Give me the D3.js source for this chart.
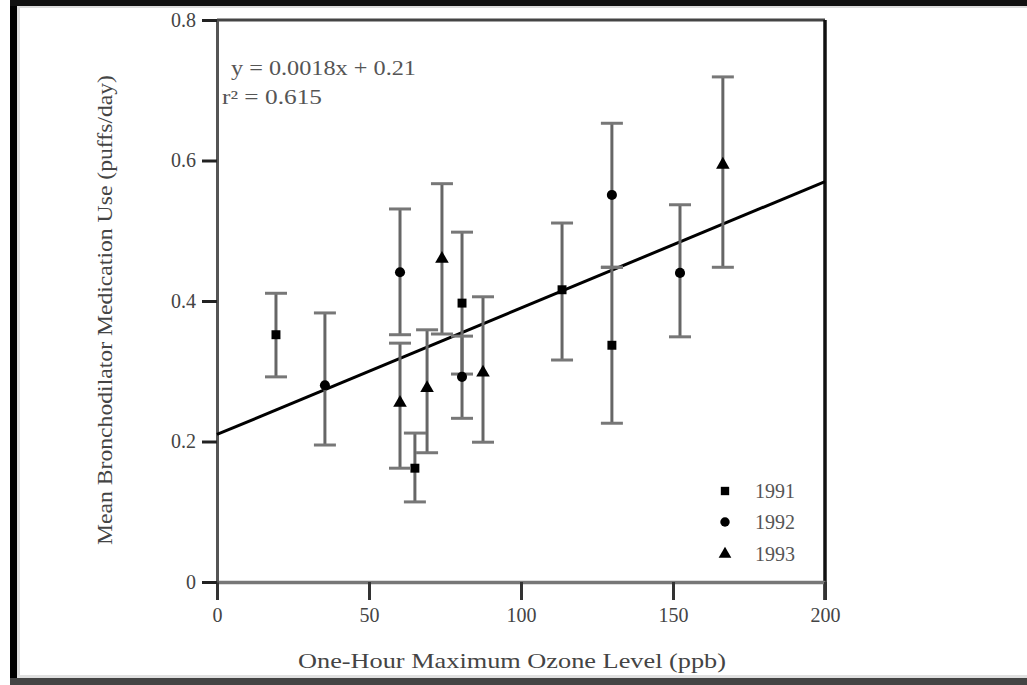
<!DOCTYPE html>
<html><head><meta charset="utf-8">
<script src="https://cdn.jsdelivr.net/npm/d3@7"></script>
<style>body{margin:0;background:#fff}svg{display:block}</style>
</head><body>
<svg id="c" width="1027" height="685"></svg>
<script>
// ---- data ----
const xTicks = [0, 50, 100, 150, 200];
const yTicks = [0, 0.2, 0.4, 0.6, 0.8];
const yTickLabels = ["0", "0.2", "0.4", "0.6", "0.8"];
const years = ["1991", "1992", "1993"];
// ozone (ppb), mean use, lower, upper
const x1991 = [19.4, 65.1, 80.6, 113.5, 129.9];
const m1991 = [0.352, 0.162, 0.397, 0.416, 0.337];
const lo1991 = [0.292, 0.114, 0.296, 0.316, 0.226];
const hi1991 = [0.411, 0.212, 0.498, 0.511, 0.448];
const x1992 = [35.5, 60.2, 80.6, 129.9, 152.3];
const m1992 = [0.280, 0.441, 0.292, 0.551, 0.440];
const lo1992 = [0.195, 0.352, 0.233, 0.448, 0.349];
const hi1992 = [0.383, 0.531, 0.350, 0.653, 0.537];
const x1993 = [60.2, 69.1, 74.0, 87.5, 166.4];
const m1993 = [0.255, 0.276, 0.460, 0.298, 0.594];
const lo1993 = [0.162, 0.184, 0.353, 0.199, 0.448];
const hi1993 = [0.340, 0.359, 0.567, 0.406, 0.719];
const slope = 0.0018, intercept = 0.21;
const eqText = "y = 0.0018x + 0.21";
const rText = "r² = 0.615";
const xTitle = "One-Hour Maximum Ozone Level (ppb)";
const yTitle = "Mean Bronchodilator Medication Use (puffs/day)";

// ---- layout ----
const svg = d3.select("#c");
const L = 217, R = 825, T = 20, B = 582;
const x = d3.scaleLinear().domain([0, 200]).range([L, R]);
const y = d3.scaleLinear().domain([0, 0.8]).range([B, T]);
const font = "'Liberation Serif','Times New Roman',serif";

// outer frame
svg.append("rect").attr("x", 10).attr("y", 0).attr("width", 7).attr("height", 685).attr("fill", "#000");
svg.append("rect").attr("x", 17).attr("y", 6).attr("width", 3).attr("height", 672).attr("fill", "#ddd");
svg.append("rect").attr("x", 10).attr("y", 0).attr("width", 1017).attr("height", 6).attr("fill", "#111");
svg.append("rect").attr("x", 17).attr("y", 6).attr("width", 1010).attr("height", 2).attr("fill", "#ddd");
svg.append("rect").attr("x", 10).attr("y", 678).attr("width", 1017).attr("height", 7).attr("fill", "#444");
svg.append("rect").attr("x", 17).attr("y", 675).attr("width", 1010).attr("height", 3).attr("fill", "#e0e0e0");

// box top and right
svg.append("line").attr("x1", L).attr("x2", R).attr("y1", T).attr("y2", T)
  .attr("stroke", "#444").attr("stroke-width", 3);
svg.append("line").attr("x1", R).attr("x2", R).attr("y1", T).attr("y2", B + 18)
  .attr("stroke", "#111").attr("stroke-width", 3.5);

// axes
const xAxis = d3.axisBottom(x).tickValues(xTicks).tickSize(18).tickSizeOuter(0).tickPadding(8)
  .tickFormat(d3.format("d"));
const gx = svg.append("g").attr("transform", `translate(0,${B})`).call(xAxis);
gx.select(".domain").attr("stroke", "#777").attr("stroke-width", 3.5);
gx.selectAll(".tick line").attr("stroke", "#333").attr("stroke-width", 3);
gx.selectAll(".tick text").attr("font-family", font).attr("font-size", 20).attr("fill", "#444");

const yAxis = d3.axisLeft(y).tickValues(yTicks).tickSize(15).tickSizeOuter(0).tickPadding(6)
  .tickFormat((d, i) => yTickLabels[i]);
const gy = svg.append("g").attr("transform", `translate(${L},0)`).call(yAxis);
gy.select(".domain").attr("stroke", "#555").attr("stroke-width", 3);
gy.selectAll(".tick line").attr("stroke", "#222").attr("stroke-width", 3);
gy.selectAll(".tick text").attr("font-family", font).attr("font-size", 20).attr("fill", "#444");

// titles
svg.append("text").attr("x", 512).attr("y", 668).attr("text-anchor", "middle")
  .attr("font-family", font).attr("font-size", 22).attr("fill", "#444")
  .attr("textLength", 428).attr("lengthAdjust", "spacingAndGlyphs").text(xTitle);
svg.append("text").attr("transform", "translate(112,310) rotate(-90)").attr("text-anchor", "middle")
  .attr("font-family", font).attr("font-size", 22).attr("fill", "#444")
  .attr("textLength", 470).attr("lengthAdjust", "spacingAndGlyphs").text(yTitle);

// equation
svg.append("text").attr("x", 231).attr("y", 75).attr("font-family", font).attr("font-size", 20)
  .attr("fill", "#555").attr("textLength", 185).attr("lengthAdjust", "spacingAndGlyphs").text(eqText);
svg.append("text").attr("x", 222).attr("y", 104).attr("font-family", font).attr("font-size", 20)
  .attr("fill", "#555").attr("textLength", 100).attr("lengthAdjust", "spacingAndGlyphs").text(rText);

// regression line
svg.append("line").attr("x1", x(0)).attr("y1", y(intercept)).attr("x2", x(200)).attr("y2", y(intercept + slope * 200))
  .attr("stroke", "#000").attr("stroke-width", 3);

// series
const series = [
  { year: years[0], xs: x1991, m: m1991, lo: lo1991, hi: hi1991, sym: d3.symbolSquare },
  { year: years[1], xs: x1992, m: m1992, lo: lo1992, hi: hi1992, sym: d3.symbolCircle },
  { year: years[2], xs: x1993, m: m1993, lo: lo1993, hi: hi1993, sym: d3.symbolTriangle }
];
const cap = 11;
series.forEach(s => {
  const g = svg.append("g");
  const pts = s.xs.map((v, i) => ({ x: v, m: s.m[i], lo: s.lo[i], hi: s.hi[i] }));
  g.selectAll(".eb").data(pts).enter().append("line")
    .attr("x1", d => x(d.x)).attr("x2", d => x(d.x)).attr("y1", d => y(d.lo)).attr("y2", d => y(d.hi))
    .attr("stroke", "#666").attr("stroke-width", 3);
  ["lo", "hi"].forEach(k => {
    g.selectAll(".cap" + k).data(pts).enter().append("line")
      .attr("x1", d => x(d.x) - cap).attr("x2", d => x(d.x) + cap)
      .attr("y1", d => y(d[k])).attr("y2", d => y(d[k]))
      .attr("stroke", "#777").attr("stroke-width", 3);
  });
  g.selectAll(".pt").data(pts).enter().append("path")
    .attr("transform", d => `translate(${x(d.x)},${y(d.m)})`)
    .attr("d", d3.symbol().type(s.sym).size(80)).attr("fill", "#000");
});

// legend
const legY = [491, 522, 554];
series.forEach((s, i) => {
  svg.append("path").attr("transform", `translate(725,${legY[i]})`)
    .attr("d", d3.symbol().type(s.sym).size(70)).attr("fill", "#000");
  svg.append("text").attr("x", 755).attr("y", legY[i] + 7).attr("font-family", font)
    .attr("font-size", 20).attr("fill", "#555").text(s.year);
});
</script>
</body></html>
